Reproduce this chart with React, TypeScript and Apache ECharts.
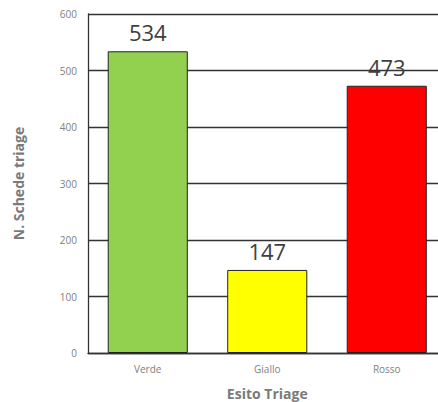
import React, { useEffect, useRef } from "react";
import * as echarts from "echarts";

const categories = ["Verde", "Giallo", "Rosso"];
const values = [534, 147, 473];
const barColors = ["#92D050", "#FFFF00", "#FF0000"];
const yTitle = "N. Schede triage";
const xTitle = "Esito Triage";

export default function App() {
  const ref = useRef<HTMLDivElement>(null);
  useEffect(() => {
    if (!ref.current) return;
    const chart = echarts.init(ref.current, null, { renderer: "svg" });
    const font = "'Open Sans', sans-serif";
    chart.setOption({
      animation: false,
      grid: { left: 88, top: 14, width: 358.5, height: 339, outerBoundsMode: "none", containLabel: false },
      xAxis: {
        type: "category",
        data: categories,
        name: xTitle,
        nameLocation: "middle",
        nameGap: 33,
        nameTextStyle: { fontFamily: font, fontSize: 14, fontWeight: "bold", color: "#7a7a7a" },
        axisLine: { lineStyle: { color: "#333", width: 1.3 } },
        axisTick: { show: false },
        axisLabel: { fontFamily: font, fontSize: 10, color: "#808080", margin: 11 },
      },
      yAxis: {
        type: "value",
        min: 0,
        max: 600,
        interval: 100,
        name: yTitle,
        nameLocation: "middle",
        nameGap: 63,
        nameTextStyle: { fontFamily: font, fontSize: 14, fontWeight: "bold", color: "#7a7a7a" },
        axisLine: { show: true, lineStyle: { color: "#333", width: 1.3 } },
        axisTick: { show: false },
        splitLine: { lineStyle: { color: "#333", width: 1.3 } },
        axisLabel: { fontFamily: font, fontSize: 10, color: "#808080", margin: 11 },
      },
      series: [
        {
          type: "bar",
          barCategoryGap: "33%",
          data: values.map((v, i) => ({
            value: v,
            itemStyle: { color: barColors[i], borderColor: "#222", borderWidth: 1 },
          })),
          label: {
            show: true,
            position: "top",
            distance: 8,
            fontFamily: font,
            fontSize: 22,
            color: "#404040",
          },
        },
      ],
    });
    return () => chart.dispose();
  }, []);
  return (
    <div
      ref={ref}
      style={{ position: "fixed", left: 0, top: 0, width: 438, height: 402, background: "#fff" }}
    />
  );
}
